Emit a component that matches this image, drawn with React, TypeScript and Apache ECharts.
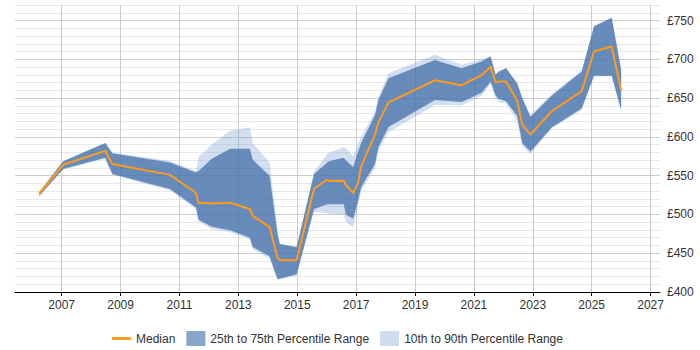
import React, { useEffect, useRef } from "react";
import * as echarts from "echarts";

const years = [
  2006.24, 2007.05, 2008.48, 2008.72, 2010.68, 2011.56, 2011.65, 2012.1, 2012.72, 2013.39,
  2013.49, 2014.06, 2014.33, 2014.41, 2014.98, 2015.57, 2016.02, 2016.1, 2016.58, 2016.65,
  2016.9, 2017.06, 2017.17, 2017.64, 2017.76, 2018.1, 2019.68, 2020.58, 2021.26, 2021.57,
  2021.74, 2021.84, 2022.09, 2022.47, 2022.64, 2022.92, 2023.64, 2024.66, 2025.08, 2025.68,
  2026.0,
];

const median = [
  527, 564, 582, 565, 551, 528, 515, 514, 515, 507,
  498, 484, 444, 441, 441, 533, 545, 543, 543.5, 538,
  527.5, 540, 562, 603, 619, 644.5, 673, 666.5, 679.5, 690.5,
  670, 671.5, 671.5, 646.5, 616, 603, 633, 659, 710, 716.5,
  659.5,
];

const p75 = [
  529, 568.5, 592, 579, 567, 554, 556, 571.7, 584.7, 584.7,
  570.4, 550, 475, 462, 458, 552, 567, 569, 573, 570,
  561, 580, 592, 628, 648, 675.5, 699, 688.5, 697, 703.5,
  680, 684, 688.5, 669, 650, 626, 653, 684, 742.6, 753.5,
  686.4,
];

const p25 = [
  524, 558.7, 573, 552, 532.7, 509, 493, 484, 479.5, 470,
  458, 446, 416.6, 417.5, 423, 507, 513, 513, 513, 500,
  494.5, 517, 535, 565, 587, 612.7, 647.4, 645, 657, 671,
  653, 649, 646, 627, 592, 581, 612, 636.7, 678.7, 678.7,
  634.6,
];

const p90 = [
  529, 568.5, 592, 580, 569, 556, 574, 590, 608, 612,
  592, 567, 480, 462, 458, 555, 578, 580, 587, 585,
  575, 590, 600, 632, 652, 682, 706, 693, 700, 704,
  680, 685, 689, 669, 651, 628, 655, 686, 743, 754,
  687,
];

const p10 = [
  523, 558, 572, 551, 531, 507, 491, 481, 477, 468,
  455, 443, 415, 416, 421, 503, 502, 501, 500, 491,
  483, 510, 530, 560, 583, 606, 641, 640.5, 653, 668,
  650, 645, 643, 620, 588, 578, 611, 635, 678, 678,
  633,
];

const xTickYears = [2007, 2009, 2011, 2013, 2015, 2017, 2019, 2021, 2023, 2025, 2027];

const FONT = "'Liberation Sans', Arial, sans-serif";

export default function App() {
  const ref = useRef<HTMLDivElement>(null);

  useEffect(() => {
    if (!ref.current) return;
    document.body.style.margin = "0";
    const chart = echarts.init(ref.current, null, { renderer: "svg" });

    const darkFill = "rgba(62,107,166,0.72)";
    const lightFill = "rgba(120,162,214,0.34)";

    const bandSeries = (name: string, lo: number[], hi: number[], fill: string, z: number) => ({
      name,
      type: "custom",
      coordinateSystem: "cartesian2d",
      data: [[years[0], lo[0]]],
      silent: true,
      z,
      itemStyle: { color: fill },
      renderItem: (_params: any, api: any) => {
        const pts: number[][] = [];
        for (let i = 0; i < years.length; i++) pts.push(api.coord([years[i], hi[i]]));
        for (let i = years.length - 1; i >= 0; i--) pts.push(api.coord([years[i], lo[i]]));
        return {
          type: "polygon",
          shape: { points: pts },
          style: { fill, stroke: "none" },
        };
      },
    });

    chart.setOption({
      animation: false,
      textStyle: { fontFamily: FONT },
      grid: { left: 15, right: 40, top: 5, bottom: 58, containLabel: false },
      xAxis: {
        type: "value",
        min: 2005.415,
        max: 2027.32,
        axisLine: { show: true, lineStyle: { color: "#000", width: 1 } },
        axisTick: { show: true, length: 4, lineStyle: { color: "#000" }, customValues: xTickYears },
        axisLabel: {
          customValues: xTickYears,
          formatter: (v: number) => String(Math.round(v)),
          color: "#333",
          fontSize: 12,
          fontFamily: FONT,
          margin: 7,
        },
        splitLine: { show: true, lineStyle: { color: "#cccccc", width: 1 } },
      },
      yAxis: {
        type: "value",
        position: "right",
        min: 400,
        max: 770,
        interval: 10,
        axisLine: { show: false },
        axisTick: { show: false },
        axisLabel: {
          formatter: (v: number) => (v % 50 === 0 ? "£" + v : ""),
          color: "#333",
          fontSize: 12,
          fontFamily: FONT,
          margin: 7,
        },
        splitLine: {
          show: true,
          lineStyle: { color: ["#cccccc", "#e8e8e8", "#e8e8e8", "#e8e8e8", "#e8e8e8"], width: 1 },
        },
      },
      legend: {
        left: 107,
        top: 326,
        itemWidth: 19,
        itemHeight: 15,
        itemGap: 11,
        textStyle: { color: "#333", fontSize: 12, fontFamily: FONT },
        data: [
          { name: "Median", icon: "path://M0,0 H20 V3 H0 Z", itemStyle: { color: "#ff9a1a" } },
          { name: "25th to 75th Percentile Range", icon: "rect", itemStyle: { color: "#87a5c9" } },
          { name: "10th to 90th Percentile Range", icon: "rect", itemStyle: { color: "#cddcee" } },
        ],
      },
      series: [
        bandSeries("10th to 90th Percentile Range", p10, p90, lightFill, 2),
        bandSeries("25th to 75th Percentile Range", p25, p75, darkFill, 3),
        {
          name: "Median",
          type: "line",
          data: years.map((y, i) => [y, median[i]]),
          symbol: "none",
          showSymbol: false,
          itemStyle: { color: "#ff9a1a" },
          lineStyle: { color: "#ff9a1a", width: 2 },
          z: 5,
        },
      ],
    });

    return () => chart.dispose();
  }, []);

  return <div ref={ref} style={{ width: 700, height: 350 }} />;
}
